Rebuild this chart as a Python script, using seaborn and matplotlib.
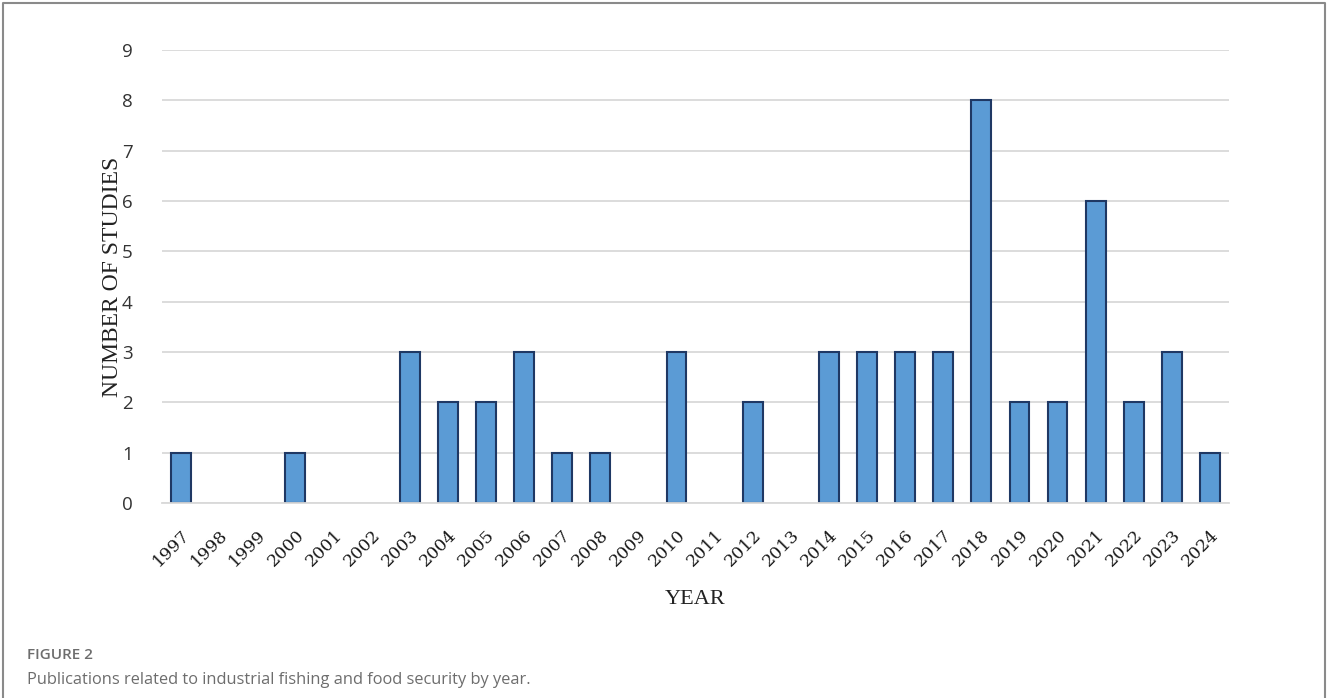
import matplotlib
matplotlib.use("Agg")
import matplotlib.pyplot as plt
import seaborn as sns
import pandas as pd
from matplotlib.lines import Line2D

years = [str(y) for y in range(1997, 2025)]
studies = [1, 0, 0, 1, 0, 0, 3, 2, 2, 3, 1, 1, 0, 3, 0, 2, 0, 3, 3, 3, 3, 8, 2, 2, 6, 2, 3, 1]
y_ticks = list(range(0, 10))
x_label = "YEAR"
y_label = "NUMBER OF STUDIES"
fig_label = "FIGURE 2"
caption = "Publications related to industrial fishing and food security by year."

df = pd.DataFrame({"year": years, "n": studies})

sns.set_theme(style="white")
plt.rcParams["font.family"] = ["Liberation Serif", "DejaVu Serif"]

fig = plt.figure(figsize=(13.27, 6.98), dpi=100)
ax = fig.add_axes([162 / 1327, 1 - 503 / 698, (1229 - 162) / 1327, (503 - 50) / 698])

sns.barplot(data=df, x="year", y="n", ax=ax, color="#5B9BD5",
            edgecolor="#1F3864", linewidth=1.5, width=0.52, saturation=1)
for p in ax.patches:
    if p.get_height() == 0:
        p.set_visible(False)

ax.set_ylim(0, 9)
ax.set_xlim(-0.5, len(years) - 0.5)
ax.set_yticks(y_ticks)
ax.set_yticklabels([str(t) for t in y_ticks], fontfamily="Open Sans", fontsize=13.5, color="#333333")
ax.yaxis.grid(True, color="#D9D9D9", linewidth=1.3)
ax.set_axisbelow(True)
for s in ["top", "right", "left"]:
    ax.spines[s].set_visible(False)
ax.spines["bottom"].set_color("#D9D9D9")
ax.spines["bottom"].set_linewidth(1.3)
ax.tick_params(axis="y", length=0, pad=21)
ax.tick_params(axis="x", length=0, pad=17)
plt.setp(ax.get_xticklabels(), rotation=45, ha="right", rotation_mode="anchor",
         fontfamily="DejaVu Serif", fontsize=12.5, color="#1a1a1a")

ax.set_xlabel(x_label, fontsize=16, color="#222222")
ax.set_ylabel(y_label, fontsize=17, color="#222222")
ax.xaxis.set_label_coords(0.5, (503 - 599) / 453, transform=ax.transAxes)
ax.xaxis.label.set_va("center")
ax.yaxis.set_label_coords((112 - 162) / 1067, 0.5, transform=ax.transAxes)
ax.yaxis.label.set_va("center")

fig.text(27 / 1327, 1 - 655 / 698, fig_label, fontfamily="Open Sans", fontsize=11,
         color="#6d6d6d", va="center", ha="left", fontweight="semibold")
fig.text(27 / 1327, 1 - 680 / 698, caption, fontfamily="Open Sans", fontsize=11.8,
         color="#6d6d6d", va="center", ha="left")

# frame around the figure (left, top, right)
fx = [2.5 / 1327, 2.5 / 1327, 1324.5 / 1327, 1324.5 / 1327]
fy = [0, 1 - 2.5 / 698, 1 - 2.5 / 698, 0]
fig.add_artist(Line2D(fx, fy, transform=fig.transFigure, color="#8a8a8a", linewidth=1.5))

fig.savefig("out.png", dpi=100)
